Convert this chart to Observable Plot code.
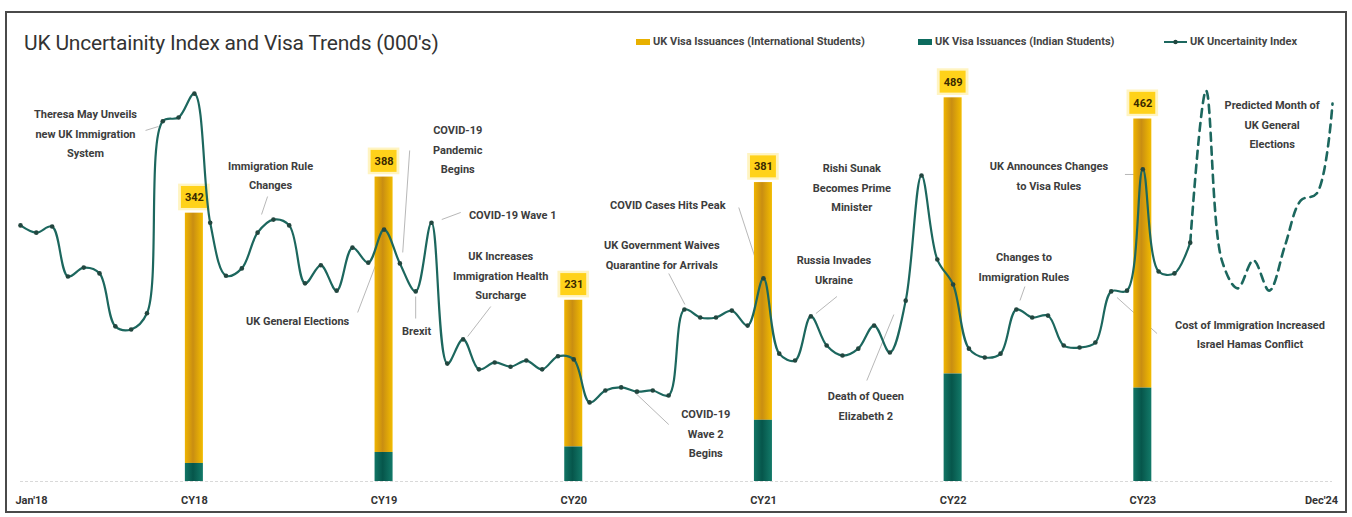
<!DOCTYPE html>
<html>
<head>
<meta charset="utf-8">
<script src="https://cdn.jsdelivr.net/npm/d3@7"></script>
<script src="https://cdn.jsdelivr.net/npm/@observablehq/plot@0.6"></script>
<style>
  html, body { margin: 0; padding: 0; background: #fff; }
  body { width: 1352px; height: 517px; position: relative; overflow: hidden; font-family: Roboto, "Open Sans", sans-serif; }
  #frame { position: absolute; left: 5px; top: 11px; width: 1338px; height: 498px; border: 2px solid #4a4a4a; background: #fff; }
  #header { position: absolute; left: 0; top: 0; width: 1338px; height: 50px; }
  #title { position: absolute; left: 17px; top: 18px; font-size: 21px; color: #333; white-space: nowrap; letter-spacing: -0.2px; }
  .leg { position: absolute; top: 22px; font-size: 11px; font-weight: bold; color: #444; white-space: nowrap; display: flex; align-items: center; }
  .leg svg { margin-right: 2px; }
  #chart { position: absolute; left: 0; top: 50px; }
</style>
</head>
<body>
<div id="frame">
  <div id="header">
    <div id="title">UK Uncertainity Index and Visa Trends (000's)</div>
    <div class="leg" style="left:629px"><svg width="15" height="8"><rect x="0" y="1" width="14" height="6" fill="#E8B000"/></svg>UK Visa Issuances (International Students)</div>
    <div class="leg" style="left:911px"><svg width="15" height="8"><rect x="0" y="1" width="14" height="6" fill="#0D6B5E"/></svg>UK Visa Issuances (Indian Students)</div>
    <div class="leg" style="left:1156px"><svg width="25" height="8"><line x1="1" y1="4" x2="24" y2="4" stroke="#1C675E" stroke-width="2"/><circle cx="12.5" cy="4" r="2.2" fill="#22463f"/></svg>UK Uncertainity Index</div>
  </div>
  <div id="chart"></div>
</div>
<script>
// ---- Data ----
// Monthly UK Uncertainty Index, Jan'18 .. Dec'24 (index units)
const uncertaintyIndex = [
  66.7,64.8,66.4,53.4,55.7,54.2,40.4,39.6,43.8,93.8,94.8,101.0,
  67.4,53.6,55.5,64.8,68.2,66.7,51.6,56.3,49.7,60.9,57.0,65.6,
  56.8,49.5,67.4,30.7,37.0,29.2,31.0,29.9,31.5,29.2,32.6,31.8,
  20.6,23.7,24.5,23.4,23.7,22.4,44.8,42.7,42.7,44.5,40.6,52.9,
  33.3,31.5,43.0,35.4,32.8,34.6,40.6,33.6,47.1,79.7,57.8,51.3,
  34.6,32.3,33.3,44.8,42.7,43.2,35.4,34.9,36.2,49.5,49.7,81.3,
  54.7,54.2,62.2,101.8,57.6,50.3,57.6,49.7,61.5,73.2,75.0,98.4
];
const predictedFromMonth = 74; // dashed (predicted) from here on

// Yearly visa issuances (000's), plotted at December of each year
const visaYears = ["CY18","CY19","CY20","CY21","CY22","CY23"];
const visaMonth = [11, 23, 35, 47, 59, 71];
const intlStudents = [342, 388, 231, 381, 489, 462];
const indianStudents = [23, 37, 44, 78, 137, 119];

// X tick labels
const tickMonths = [0, 11, 23, 35, 47, 59, 71, 83];
const tickLabels = ["Jan'18", "CY18", "CY19", "CY20", "CY21", "CY22", "CY23", "Dec'24"];

// Event annotations (month index, value on visa axis)
const eventText = [
  "Theresa May Unveils\nnew UK Immigration\nSystem",
  "Immigration Rule\nChanges",
  "COVID-19\nPandemic\nBegins",
  "COVID-19 Wave 1",
  "UK Increases\nImmigration Health\nSurcharge",
  "UK General Elections",
  "Brexit",
  "COVID Cases Hits Peak",
  "UK Government Waives\nQuarantine for Arrivals",
  "COVID-19\nWave 2\nBegins",
  "Rishi Sunak\nBecomes Prime\nMinister",
  "Russia Invades\nUkraine",
  "Death of Queen\nElizabeth 2",
  "UK Announces Changes\nto Visa Rules",
  "Changes to\nImmigration Rules",
  "Cost of Immigration Increased\nIsrael Hamas Conflict",
  "Predicted Month of\nUK General\nElections"
];
const eventMonth = [4.11, 15.82, 27.66, 31.14, 30.38, 17.53, 25.06, 40.95, 40.57, 43.35, 52.59, 51.46, 53.48, 65.06, 63.48, 77.78, 79.18];
const eventValue = [446, 393, 425.7, 342.9, 265.1, 207.7, 195, 355.6, 291.9, 63.7, 377.3, 272.7, 99.4, 392.6, 276.6, 190.5, 457.6];

// Leader lines [m1, v1, m2, v2]
const leaderM1 = [7.91, 15.63, 21.33, 24.62, 25.0, 27.85, 29.75, 45.44, 41.01, 41.01, 51.65, 53.54, 69.87, 63.54, 71.9];
const leaderV1 = [447.4, 363.2, 215.4, 421.9, 207.7, 342.9, 223, 349.2, 265.1, 72.6, 235.8, 128.7, 391.3, 248.5, 188.6];
const leaderM2 = [8.73, 15.25, 22.53, 24.18, 25.0, 26.65, 28.29, 46.84, 42.03, 38.73, 50.32, 55.25, 70.63, 63.23, 69.37];
const leaderV2 = [452.5, 340.3, 279.1, 291.9, 235.8, 333.9, 184.8, 262.6, 225.6, 116, 214.1, 212.8, 391.3, 230.7, 234.5];

// ---- Tables ----
const indexToVisa = d3.scaleLinear().domain([0, 100]).range([0, 489.4]); // secondary axis mapping
const series = uncertaintyIndex.map((v, i) => ({m: i, v: indexToVisa(v)}));
const actual = series.filter(d => d.m <= predictedFromMonth);
const predicted = series.filter(d => d.m >= predictedFromMonth);
const bars = visaYears.map((y, i) => ({year: y, m: visaMonth[i], total: intlStudents[i], indian: indianStudents[i]}));
const ticks = tickLabels.map((t, i) => ({m: tickMonths[i], label: t}));
const events = eventText.map((t, i) => ({text: t, m: eventMonth[i], v: eventValue[i]}));
const leaders = leaderM1.map((m, i) => ({m1: m, v1: leaderV1[i], m2: leaderM2[i], v2: leaderV2[i]}));

const halfW = 0.57;
const font = "Roboto, 'Open Sans', sans-serif";
const lineColor = "#1C675E";

const chart = Plot.plot({
  width: 1338,
  height: 448,
  marginLeft: 13,
  marginRight: 13,
  marginTop: 10,
  marginBottom: 30,
  style: {fontFamily: font, background: "transparent", overflow: "visible"},
  x: {domain: [0, 83], axis: null},
  y: {domain: [0, 520], axis: null},
  marks: [
    Plot.ruleY([0], {stroke: "#d9d9d9", strokeWidth: 1, strokeDasharray: "3,2"}),
    // leader lines
    Plot.link(leaders, {x1: "m1", y1: "v1", x2: "m2", y2: "v2", stroke: "#b8b8b8", strokeWidth: 1}),
    // bars
    Plot.rect(bars, {x1: d => d.m - halfW, x2: d => d.m + halfW, y1: "indian", y2: "total", fill: "url(#goldGrad)"}),
    Plot.rect(bars, {x1: d => d.m - halfW, x2: d => d.m + halfW, y1: 0, y2: "indian", fill: "url(#tealGrad)"}),
    // bar label boxes
    Plot.rect(bars, {x1: d => d.m - 1.0, x2: d => d.m + 1.0, y1: d => d.total + 3, y2: d => d.total + 37, fill: "#FFF0A8", fillOpacity: 0.7}),
    Plot.rect(bars, {x1: d => d.m - 0.82, x2: d => d.m + 0.82, y1: d => d.total + 6, y2: d => d.total + 34, fill: "#FFD21A"}),
    Plot.text(bars, {x: "m", y: d => d.total + 20, text: d => String(d.total), fill: "#3a2a00", fontWeight: "bold", fontSize: 11}),
    // uncertainty index line
    Plot.line(actual, {x: "m", y: "v", stroke: lineColor, strokeWidth: 2.2, curve: "catmull-rom"}),
    Plot.line(predicted, {x: "m", y: "v", stroke: lineColor, strokeWidth: 2.6, strokeDasharray: "8,6", curve: "catmull-rom"}),
    Plot.dot(actual, {x: "m", y: "v", r: 2.3, fill: "#22463f"}),
    // annotations
    Plot.text(events, {x: "m", y: "v", text: "text", fill: "#3d3d3d", fontWeight: "bold", fontSize: 11, lineHeight: 1.78}),
    // x tick labels
    Plot.text(ticks.filter((d, i) => i === 0), {x: "m", y: 0, text: "label", dy: 19, dx: 11, fill: "#333", fontWeight: "bold", fontSize: 11}),
    Plot.text(ticks.filter((d, i) => i > 0 && i < ticks.length - 1), {x: "m", y: 0, text: "label", dy: 19, fill: "#333", fontWeight: "bold", fontSize: 11}),
    Plot.text(ticks.filter((d, i) => i === ticks.length - 1), {x: "m", y: 0, text: "label", dy: 19, dx: -11, fill: "#333", fontWeight: "bold", fontSize: 11})
  ]
});

// gradients for bar shading
const defs = d3.select(chart).insert("defs", ":first-child");
const g1 = defs.append("linearGradient").attr("id", "goldGrad").attr("x1", "0").attr("x2", "1").attr("y1", "0").attr("y2", "0");
g1.append("stop").attr("offset", "0%").attr("stop-color", "#EFB400");
g1.append("stop").attr("offset", "45%").attr("stop-color", "#C98E12");
g1.append("stop").attr("offset", "100%").attr("stop-color", "#F2BC00");
const g2 = defs.append("linearGradient").attr("id", "tealGrad").attr("x1", "0").attr("x2", "1").attr("y1", "0").attr("y2", "0");
g2.append("stop").attr("offset", "0%").attr("stop-color", "#127565");
g2.append("stop").attr("offset", "45%").attr("stop-color", "#06564B");
g2.append("stop").attr("offset", "100%").attr("stop-color", "#137A69");

document.getElementById("chart").appendChild(chart);
</script>
</body>
</html>
